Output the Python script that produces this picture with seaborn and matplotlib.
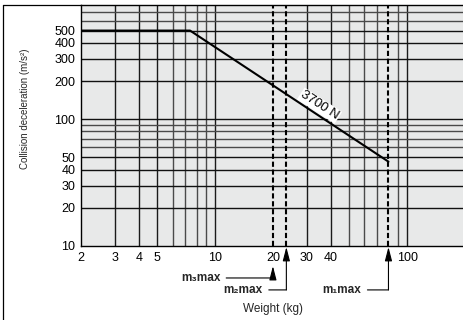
import matplotlib
matplotlib.use("Agg")
import matplotlib.pyplot as plt
import matplotlib.transforms as mtransforms
from matplotlib.lines import Line2D
import pandas as pd
import seaborn as sns

# curve: 3700 N limit, flat at 500 m/s2
weight = [2, 7.4, 80]
accel = [500, 500, 46.25]

x_ticks = [2, 3, 4, 5, 10, 20, 30, 40, 100]
y_ticks = [10, 20, 30, 40, 50, 100, 200, 300, 400, 500]
x_minor = [6, 7, 8, 9, 50, 60, 70, 90]
x_major_grid = [3, 4, 5, 10, 30, 40, 100]
y_minor = [60, 70, 80, 90, 600, 700]

m_labels = ["m\u2083max", "m\u2082max", "m\u2081max"]
m_values = [20, 23.5, 80]

sns.set_theme(style="white")
plt.rcParams["font.family"] = ["Liberation Sans", "DejaVu Sans"]

fig = plt.figure(figsize=(4.64, 3.2), dpi=100)
ax = fig.add_axes([81 / 464, 1 - 246 / 320, 1 - 81 / 464, (246 - 4.7) / 320])
ax.set_facecolor("#e8e9e9")

ax.set_xscale("log")
ax.set_yscale("log")
ax.set_xlim(2, 198)
ax.set_ylim(10, 800)

# grid
for v in x_minor:
    ax.axvline(v, color="#4a4a4a", lw=1.0, zorder=1)
for v in x_major_grid:
    ax.axvline(v, color="#1a1a1a", lw=1.0, zorder=1)
for v in y_minor:
    ax.axhline(v, color="#4a4a4a", lw=1.0, zorder=1)
for v in y_ticks[1:]:
    ax.axhline(v, color="#111111", lw=1.0, zorder=1)

df = pd.DataFrame({"weight": weight, "accel": accel})
sns.lineplot(data=df, x="weight", y="accel", color="black", lw=1.5, ax=ax, zorder=4)

ax.text(35, 128, "3700 N", rotation=-33, ha="center", va="center", fontsize=9.5,
        color="black",
        bbox=dict(facecolor="white", edgecolor="none", pad=0.8), zorder=5)

# dashed max lines
for m in m_values:
    ax.axvline(m, color="black", lw=1.5, ls=(0, (2.5, 1.3)), zorder=3)

ax.set_xticks(x_ticks)
ax.set_xticklabels([str(t) for t in x_ticks])
ax.set_xticks([], minor=True)
ax.set_yticks(y_ticks)
ax.set_yticklabels([str(t) for t in y_ticks])
ax.set_yticks([], minor=True)
ax.tick_params(axis="both", length=0, labelsize=9, colors="black", pad=4)
ax.set_xlabel("")
ax.set_ylabel("")

for side in ["left", "bottom", "top"]:
    ax.spines[side].set_color("black")
    ax.spines[side].set_linewidth(1.0)
ax.spines["right"].set_visible(False)

# arrows with labels below the axis
trans = mtransforms.blended_transform_factory(ax.transData, ax.transAxes)
tip_y = [-0.083, -0.004, -0.004]
line_y = [-0.1325, -0.182, -0.182]
gaps = [38, 17, 19.5]
for lab, m, ty, ly, g in zip(m_labels, m_values, tip_y, line_y, gaps):
    ax.annotate("", xy=(m, ty), xytext=(m, ly), xycoords=trans, textcoords=trans,
                arrowprops=dict(arrowstyle="-|>,head_length=0.7,head_width=0.18",
                                color="black", lw=0.8, shrinkA=0, shrinkB=0),
                annotation_clip=False)
    ax.annotate(lab, xy=(m, ly), xycoords=trans, xytext=(-g, 0),
                textcoords="offset points", ha="right", va="center",
                fontsize=8.5, fontweight="bold",
                arrowprops=dict(arrowstyle="-", color="black", lw=0.8,
                                relpos=(1, 0.5), shrinkA=2, shrinkB=0),
                annotation_clip=False)

fig.text(273 / 464, 1 - 309 / 320, "Weight (kg)", ha="center", va="center", fontsize=8.5)
fig.text(25 / 464, 1 - 109 / 320, "Collision deceleration (m/s\u00b2)", ha="center",
         va="center", rotation=90, fontsize=7)

# outer frame (left and top)
fig.add_artist(Line2D([3 / 464, 3 / 464], [0, 1 - 4.7 / 320], transform=fig.transFigure,
                      color="black", lw=0.9))
fig.add_artist(Line2D([3 / 464, 81 / 464], [1 - 4.7 / 320, 1 - 4.7 / 320],
                      transform=fig.transFigure, color="black", lw=0.9))

fig.savefig("out.png", dpi=100, facecolor="white")
